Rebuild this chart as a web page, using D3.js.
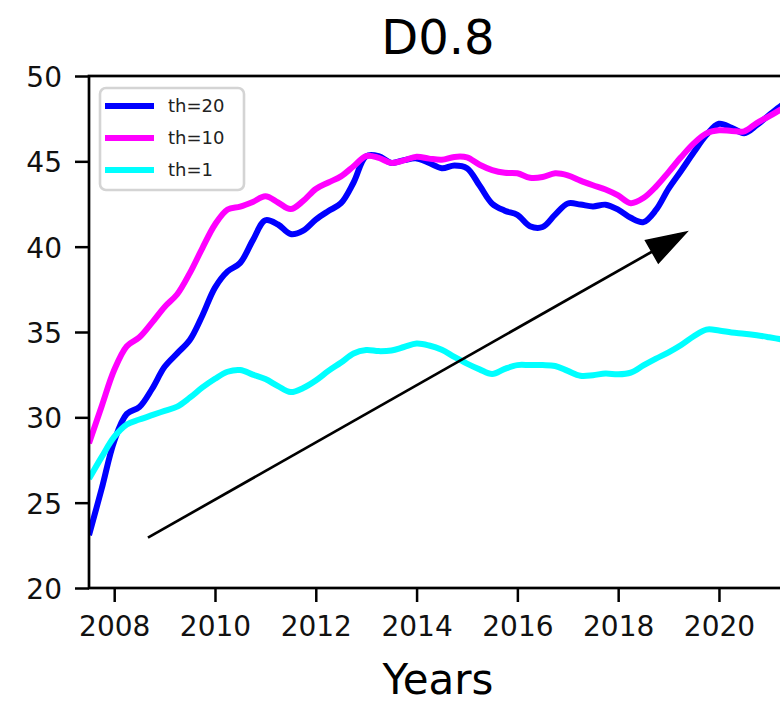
<!DOCTYPE html>
<html>
<head>
<meta charset="utf-8">
<script src="https://cdn.jsdelivr.net/npm/d3@7"></script>
<style>
  html, body { margin: 0; padding: 0; background: #fff; }
  svg { display: block; font-family: "DejaVu Sans", sans-serif; }
</style>
</head>
<body>
<svg id="chart" width="780" height="701"></svg>
<script>
// Sample dates (quarter-year steps)
const years = [
  2007.5, 2007.75, 2008, 2008.25, 2008.5, 2008.75, 2009, 2009.25, 2009.5, 2009.75,
  2010, 2010.25, 2010.5, 2010.75, 2011, 2011.25, 2011.5, 2011.75, 2012, 2012.25,
  2012.5, 2012.75, 2013, 2013.25, 2013.5, 2013.75, 2014, 2014.25, 2014.5, 2014.75,
  2015, 2015.25, 2015.5, 2015.75, 2016, 2016.25, 2016.5, 2016.75, 2017, 2017.25,
  2017.5, 2017.75, 2018, 2018.25, 2018.5, 2018.75, 2019, 2019.25, 2019.5, 2019.75,
  2020, 2020.25, 2020.5, 2020.75, 2021, 2021.25, 2021.5
];

// Series values, one per threshold
const th20 = [
  23.10, 25.8, 28.6, 30.2, 30.6, 31.66, 32.96, 33.75, 34.53, 35.97,
  37.6, 38.55, 39.05, 40.37, 41.55, 41.3, 40.74, 40.94, 41.59, 42.09,
  42.55, 43.76, 45.3, 45.3, 44.91, 45.07, 45.17, 44.9, 44.6, 44.76,
  44.6, 43.58, 42.52, 42.11, 41.86, 41.2, 41.15, 41.88, 42.53, 42.47,
  42.36, 42.46, 42.17, 41.69, 41.44, 42.15, 43.4, 44.45, 45.53, 46.54,
  47.2, 46.97, 46.65, 47.12, 47.72, 48.3, 48.8
];
const th10 = [
  28.48, 30.64, 32.77, 34.17, 34.69, 35.55, 36.47, 37.21, 38.45, 39.92,
  41.3, 42.18, 42.35, 42.62, 42.95, 42.59, 42.2, 42.68, 43.38, 43.76,
  44.12, 44.71, 45.31, 45.2, 44.91, 45.06, 45.27, 45.16, 45.09, 45.26,
  45.23, 44.8, 44.49, 44.33, 44.3, 44.04, 44.08, 44.3, 44.18, 43.87,
  43.6, 43.35, 43.0, 42.55, 42.85, 43.52, 44.37, 45.25, 46.05, 46.64,
  46.82, 46.78, 46.76, 47.24, 47.65, 48.08, 48.5
];
const th1 = [
  26.4, 27.67, 28.85, 29.58, 29.87, 30.13, 30.38, 30.63, 31.15, 31.75,
  32.26, 32.67, 32.77, 32.5, 32.24, 31.83, 31.48, 31.72, 32.16, 32.72,
  33.21, 33.74, 33.94, 33.88, 33.92, 34.12, 34.32, 34.21, 33.96, 33.54,
  33.15, 32.81, 32.54, 32.84, 33.06, 33.06, 33.06, 33.01, 32.72, 32.44,
  32.47, 32.57, 32.52, 32.62, 33.04, 33.44, 33.81, 34.24, 34.75, 35.14,
  35.09, 34.97, 34.9, 34.81, 34.69, 34.56, 34.44
];

const seriesNames = ["th=20", "th=10", "th=1"];
const seriesColors = ["#0000ff", "#ff00ff", "#00ffff"];

const xTicks = [2008, 2010, 2012, 2014, 2016, 2018, 2020];
const yTicks = [20, 25, 30, 35, 40, 45, 50];

// Trend arrow (start and tip, in data units)
const arrowFrom = [2008.67, 22.95];
const arrowTo = [2019.36, 40.86];

const titleText = "D0.8";
const xLabel = "Years";

const series = [th20, th10, th1].map((vals, i) => ({
  name: seriesNames[i],
  color: seriesColors[i],
  points: years.map((y, j) => [y, vals[j]])
}));

const svg = d3.select("#chart");
const plot = { left: 89, right: 787, top: 76, bottom: 588 };

const x = d3.scaleLinear().domain([2007.5, 2021.35]).range([plot.left, plot.right]);
const y = d3.scaleLinear().domain([20, 50]).range([plot.bottom, plot.top]);

svg.append("defs").append("clipPath").attr("id", "plotClip")
  .append("rect")
  .attr("x", plot.left).attr("y", plot.top)
  .attr("width", plot.right - plot.left).attr("height", plot.bottom - plot.top);

// Lines
const line = d3.line()
  .x(d => x(d[0]))
  .y(d => y(d[1]))
  .curve(d3.curveCatmullRom.alpha(0.5));

const lines = svg.append("g").attr("clip-path", "url(#plotClip)");
series.forEach(s => {
  lines.append("path")
    .attr("d", line(s.points))
    .attr("fill", "none")
    .attr("stroke", s.color)
    .attr("stroke-width", 6)
    .attr("stroke-linejoin", "round")
    .attr("stroke-linecap", "butt");
});

// Trend arrow
(function drawArrow() {
  const x0 = x(arrowFrom[0]), y0 = y(arrowFrom[1]);
  const x1 = x(arrowTo[0]), y1 = y(arrowTo[1]);
  const dx = x1 - x0, dy = y1 - y0;
  const len = Math.hypot(dx, dy);
  const ux = dx / len, uy = dy / len;
  const headLen = 40, headHalf = 13;
  const bx = x1 - ux * headLen, by = y1 - uy * headLen;
  svg.append("line")
    .attr("x1", x0).attr("y1", y0)
    .attr("x2", bx + ux * 2).attr("y2", by + uy * 2)
    .attr("stroke", "#000").attr("stroke-width", 2.7);
  const pts = [
    [x1, y1],
    [bx - uy * headHalf, by + ux * headHalf],
    [bx + uy * headHalf, by - ux * headHalf]
  ];
  svg.append("path")
    .attr("d", "M" + pts.map(p => p.join(",")).join("L") + "Z")
    .attr("fill", "#000")
    .attr("stroke", "#000")
    .attr("stroke-width", 1.5)
    .attr("stroke-linejoin", "miter");
})();

// Axes
const tickFont = 28;
const xAxis = d3.axisBottom(x).tickValues(xTicks).tickFormat(d3.format("d"))
  .tickSizeInner(14).tickSizeOuter(0).tickPadding(13);
const yAxis = d3.axisLeft(y).tickValues(yTicks).tickFormat(d3.format("d"))
  .tickSizeInner(14).tickSizeOuter(0).tickPadding(13);

const gx = svg.append("g").attr("transform", `translate(0,${plot.bottom})`).call(xAxis);
const gy = svg.append("g").attr("transform", `translate(${plot.left},0)`).call(yAxis);
[gx, gy].forEach(g => {
  g.select(".domain").remove();
  g.selectAll(".tick line").attr("stroke", "#000").attr("stroke-width", 2.5);
  g.selectAll(".tick text")
    .attr("fill", "#111")
    .style("font-size", tickFont + "px")
    .style("font-family", "'DejaVu Sans', sans-serif");
});
gx.selectAll(".tick text").attr("dy", "0.76em");
gy.selectAll(".tick text").attr("dy", "0.38em");

// Frame
svg.append("rect")
  .attr("x", plot.left).attr("y", plot.top)
  .attr("width", plot.right - plot.left).attr("height", plot.bottom - plot.top)
  .attr("fill", "none").attr("stroke", "#000").attr("stroke-width", 2.7);

// Title and axis label
svg.append("text")
  .attr("x", (plot.left + plot.right) / 2).attr("y", 54)
  .attr("text-anchor", "middle")
  .style("font-size", "48px")
  .attr("fill", "#000")
  .text(titleText);

svg.append("text")
  .attr("x", (plot.left + plot.right) / 2 ).attr("y", 694)
  .attr("text-anchor", "middle")
  .style("font-size", "42px")
  .attr("fill", "#000")
  .text(xLabel);

// Legend
const legend = svg.append("g").attr("transform", "translate(100,88)");
legend.append("rect")
  .attr("x", 0).attr("y", 0).attr("width", 144).attr("height", 102)
  .attr("rx", 6).attr("ry", 6)
  .attr("fill", "#fff").attr("fill-opacity", 0.8)
  .attr("stroke", "#d4d4d4").attr("stroke-width", 2.6);
series.forEach((s, i) => {
  const cy = 18 + i * 32;
  legend.append("line")
    .attr("x1", 5).attr("x2", 54).attr("y1", cy).attr("y2", cy)
    .attr("stroke", s.color).attr("stroke-width", 6);
  legend.append("text")
    .attr("x", 68).attr("y", cy).attr("dy", "0.36em")
    .style("font-size", "18px")
    .attr("fill", "#222")
    .text(s.name);
});
</script>
</body>
</html>
